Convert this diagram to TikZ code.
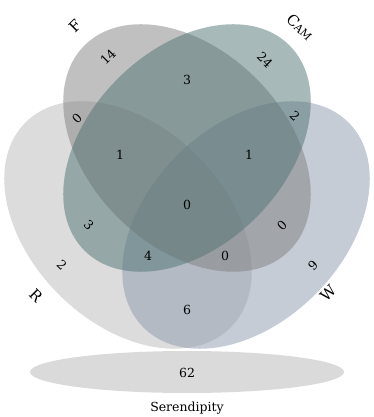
\documentclass[tikz,border=0pt]{standalone}
\usepackage{fontspec}
\setmainfont{DejaVu Serif}
\definecolor{cR}{RGB}{185,185,185}
\definecolor{cW}{RGB}{139,153,173}
\definecolor{cF}{RGB}{129,129,129}
\definecolor{cC}{RGB}{81,115,115}
\definecolor{cS}{RGB}{218,218,218}
\begin{document}
\begin{tikzpicture}[x=1pt,y=1pt,
  setfill/.style={fill opacity=0.5,draw=none},
  num/.style={font=\fontsize{12.5}{14}\selectfont,inner sep=0pt},
  cat/.style={font=\fontsize{15}{17}\selectfont,inner sep=0pt}]
\useasboundingbox (0,0) rectangle (374,417);
% sets
\fill[setfill,cR,rotate around={-45:(128,192)}] (128,192) ellipse (145 and 98);
\fill[setfill,cW,rotate around={45:(246,192)}] (246,192) ellipse (145 and 98);
\fill[setfill,cF,rotate around={-45:(187,269)}] (187,269) ellipse (145 and 98);
\fill[setfill,cC,rotate around={45:(187,269)}] (187,269) ellipse (145 and 98);
% serendipity
\fill[cS] (187,45) ellipse (157 and 21);
\node[num] (s62) at (187,44) {62};
\node[num] (sl) at (187,9) {Serendipity};
% category labels
\node[cat,rotate=45] (lF) at (75,391) {F};
\node[cat,rotate=-45] (lC) at (300,390) {C{\fontsize{11}{12}\selectfont AM}};
\node[cat,rotate=-45] (lR) at (36,121) {R};
\node[cat,rotate=45] (lW) at (328,124) {W};
% region counts
\node[num,rotate=45] (n14) at (108,360) {14};
\node[num,rotate=-45] (n24) at (265,357) {24};
\node[num] (n3a) at (187,337) {3};
\node[num,rotate=45] (n0a) at (77,299) {0};
\node[num,rotate=-45] (n2a) at (295,301) {2};
\node[num] (n1a) at (120,262) {1};
\node[num] (n1b) at (249,262) {1};
\node[num] (n0b) at (187,212) {0};
\node[num,rotate=-45] (n3b) at (89,192) {3};
\node[num,rotate=45] (n0c) at (282,192) {0};
\node[num,rotate=-45] (n2b) at (62,152) {2};
\node[num,rotate=45] (n9) at (313,152) {9};
\node[num] (n4) at (148,161) {4};
\node[num] (n0d) at (225,161) {0};
\node[num] (n6) at (187,107) {6};
\end{tikzpicture}
\end{document}
